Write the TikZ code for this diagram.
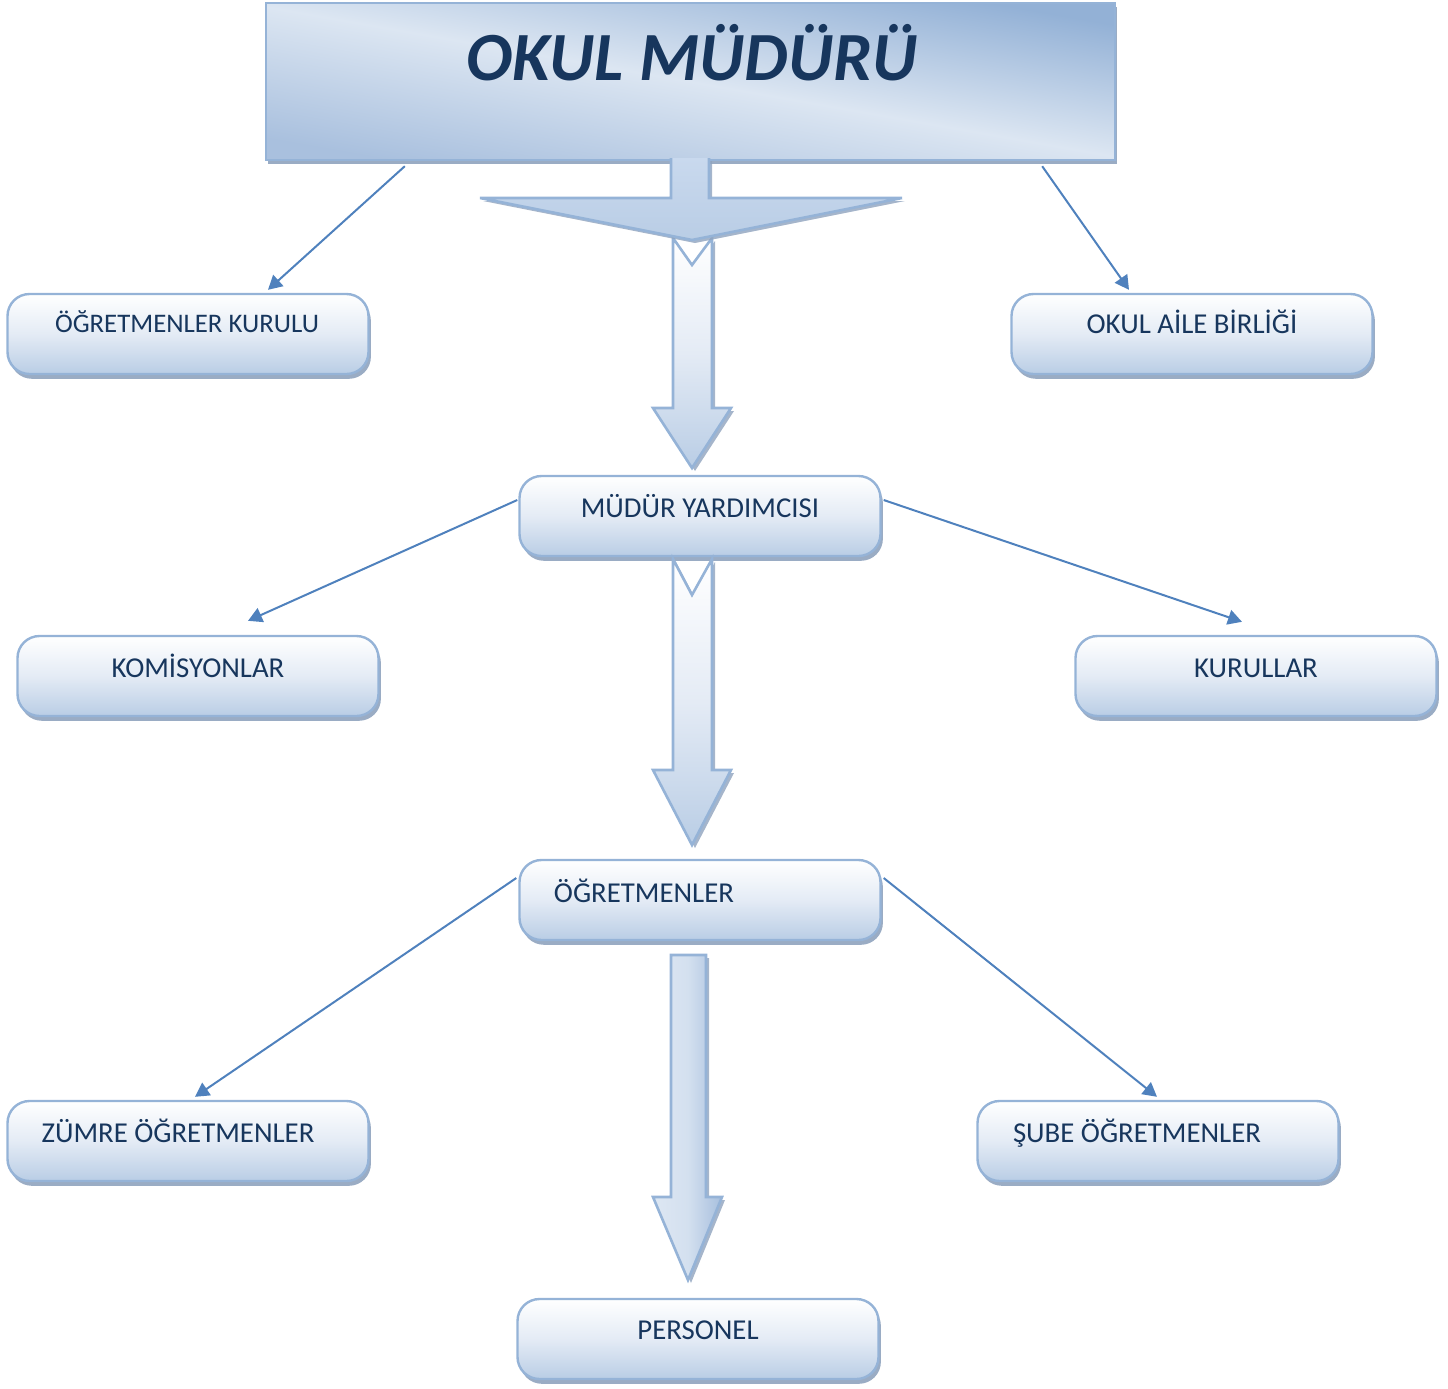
\documentclass[tikz,border=0pt]{standalone}
\usepackage{fontspec}
\setmainfont{Carlito}
\usetikzlibrary{shadows,shadings,calc,arrows.meta}
\definecolor{txt}{HTML}{17365D}
\definecolor{edgecol}{HTML}{95B3D7}
\definecolor{boxbot}{HTML}{B9CDE5}
\definecolor{boxmid}{HTML}{E4EBF5}
\definecolor{shad}{HTML}{8FA3BE}
\definecolor{conncol}{HTML}{4F81BD}
\definecolor{tl}{HTML}{DDE7F3}
\definecolor{tr}{HTML}{93B1D6}
\definecolor{bl}{HTML}{A9C0DE}
\definecolor{lightmid}{HTML}{DCE6F2}
\definecolor{headtop}{HTML}{C9D9EE}
\definecolor{arrR}{HTML}{A7BFDE}
\definecolor{arrM}{HTML}{D4E0EF}
\tikzset{
  orgbox/.style={draw=edgecol, line width=1.2pt, rounded corners=11pt,
    minimum width=180.5pt, minimum height=40pt, inner sep=0pt,
    top color=white, bottom color=boxbot, middle color=boxmid,
    drop shadow={shadow xshift=1.2pt, shadow yshift=-2.4pt, fill=shad, opacity=0.9}},
  lbl/.style={text=txt, font=\fontsize{14.4}{17}\selectfont, inner sep=0pt, anchor=base},
  conn/.style={draw=conncol, line width=1pt, -{Triangle[length=7pt,width=7.5pt]}},
  blockarrow/.style={draw=edgecol, line width=1.3pt, line join=miter,
    drop shadow={shadow xshift=1.5pt, shadow yshift=-1.5pt, fill=shad, opacity=0.8}},
}
\begin{document}
\begin{tikzpicture}[x=0.5pt,y=-0.5pt]
\useasboundingbox (0,0) rectangle (1448,1389);

% title box
\node[draw=edgecol, line width=1.2pt, minimum width=424.5pt, minimum height=78.5pt,
      inner sep=0pt, top color=tr, bottom color=bl, middle color=lightmid, shading angle=-10,
      drop shadow={shadow xshift=1pt, shadow yshift=-2.2pt, fill=shad, opacity=0.9}]
      (title) at (690.5,81.5) {};
\node[text=txt, font=\fontsize{34.5}{40}\selectfont\bfseries\itshape, inner sep=0pt, anchor=base]
      (titleT) at (692,80) {OKUL MÜDÜRÜ};

% boxes
\node[orgbox] (kurul) at (188,334) {};
\node[orgbox] (aile) at (1192,334) {};
\node[orgbox] (yard) at (700,516) {};
\node[orgbox] (komis) at (198,676) {};
\node[orgbox] (kurullar) at (1256,676) {};
\node[orgbox] (ogret) at (700,900) {};
\node[orgbox] (zumre) at (188,1141) {};
\node[orgbox] (sube) at (1158,1141) {};
\node[orgbox] (personel) at (698,1339) {};

\node[lbl, font=\fontsize{13.4}{16}\selectfont] (kurulT) at (187,332) {ÖĞRETMENLER KURULU};
\node[lbl] (aileT) at (1192,333) {OKUL AİLE BİRLİĞİ};
\node[lbl] (yardT) at (700,517) {MÜDÜR YARDIMCISI};
\node[lbl] (komisT) at (198,677) {KOMİSYONLAR};
\node[lbl] (kurullarT) at (1256,677) {KURULLAR};
\node[lbl] (ogretT) at (644,902) {ÖĞRETMENLER};
\node[lbl] (zumreT) at (178,1142) {ZÜMRE ÖĞRETMENLER};
\node[lbl] (subeT) at (1137,1142) {ŞUBE ÖĞRETMENLER};
\node[lbl] (personelT) at (698,1339) {PERSONEL};

% block arrows
\path[blockarrow, top color=white, bottom color=boxbot, middle color=boxmid]
  (673,238) -- (692,265) -- (712,238) -- (712,408) -- (731,408) -- (692,468)
  -- (653,408) -- (673,408) -- cycle;
\path[blockarrow, top color=headtop, bottom color=boxbot]
  (671,158) -- (671,198) -- (480,198) -- (692,240) -- (902,198) -- (709,198) -- (709,158);
\path[blockarrow, top color=white, bottom color=boxbot, middle color=boxmid]
  (673,559) -- (692,595) -- (712,559) -- (712,770) -- (731,770) -- (692,845)
  -- (653,770) -- (673,770) -- cycle;
\path[blockarrow, left color=tl, right color=arrR, middle color=arrM]
  (671,955) -- (706,955) -- (706,1197) -- (722,1197) -- (688,1280) -- (653,1197)
  -- (671,1197) -- cycle;

% connectors
\draw[conn] ($(title.south west)+(140,5)$) -- ($(kurul.north)+(80,-3)$);
\draw[conn] ($(title.south east)+(-74,5)$) -- ($(aile.north)+(-63,-3)$);
\draw[conn] ($(yard.west)+(-1,-16)$) -- ($(komis.north)+(50,-14)$);
\draw[conn] ($(yard.east)+(2,-16)$) -- ($(kurullar.north)+(-14,-13)$);
\draw[conn] ($(ogret.west)+(-2,-22)$) -- ($(zumre.north)+(7,-3)$);
\draw[conn] ($(ogret.east)+(2,-22)$) -- ($(sube.north)+(-1,-3)$);
\end{tikzpicture}
\end{document}
